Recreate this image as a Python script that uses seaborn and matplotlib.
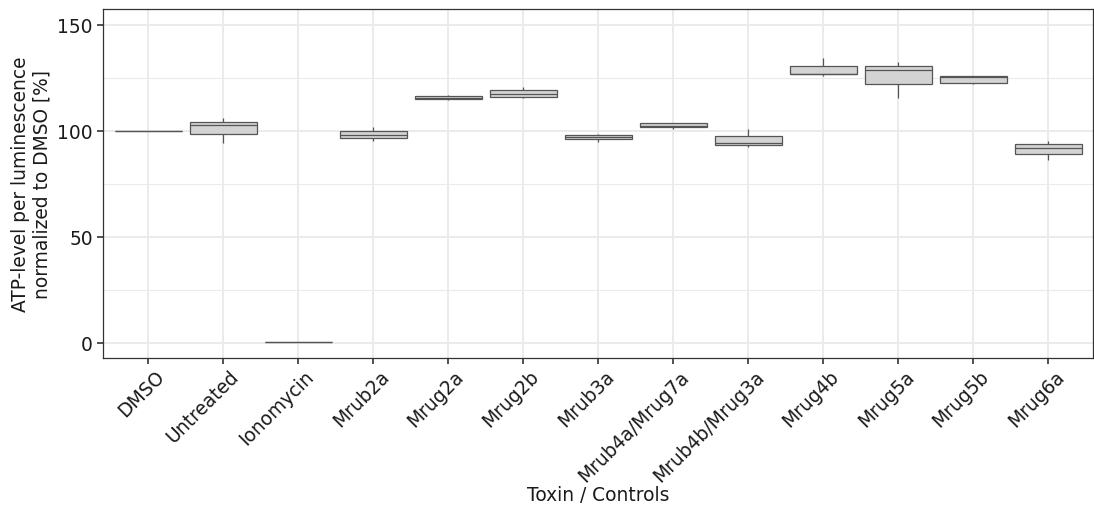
import numpy as np
import pandas as pd
import matplotlib
matplotlib.use('Agg')
import matplotlib.pyplot as plt
import matplotlib.transforms as mtransforms
import seaborn as sns

# ------------------------------------------------------------------
# Data: five values per group (min, q1, median, q3, max)
# ------------------------------------------------------------------

groups = ['DMSO', 'Untreated', 'Ionomycin', 'Mrub2a', 'Mrug2a', 'Mrug2b',
          'Mrub3a', 'Mrub4a/Mrug7a', 'Mrub4b/Mrug3a', 'Mrug4b', 'Mrug5a',
          'Mrug5b', 'Mrug6a']

dmso = [100.0, 100.0, 100.0, 100.0, 100.0]
untreated = [94.4, 98.5, 102.7, 104.2, 105.9]
ionomycin = [0.2, 0.2, 0.2, 0.2, 0.2]
mrub2a = [95.2, 96.3, 97.9, 99.6, 101.5]
mrug2a = [114.5, 114.7, 115.3, 116.3, 116.8]
mrug2b = [115.3, 116.1, 117.4, 119.1, 120.4]
mrub3a = [94.7, 96.0, 96.9, 97.9, 98.5]
mrub4a_mrug7a = [100.7, 101.8, 102.2, 103.4, 103.4]
mrub4b_mrug3a = [92.5, 93.2, 94.3, 97.7, 100.9]
mrug4b = [125.9, 126.5, 126.8, 130.6, 134.5]
mrug5a = [115.3, 121.8, 128.4, 130.6, 132.5]
mrug5b = [122.0, 122.3, 125.5, 125.7, 126.0]
mrug6a = [86.2, 89.2, 91.9, 93.6, 95.2]

values = [dmso, untreated, ionomycin, mrub2a, mrug2a, mrug2b, mrub3a,
          mrub4a_mrug7a, mrub4b_mrug3a, mrug4b, mrug5a, mrug5b, mrug6a]

df = pd.DataFrame({'Toxin': np.repeat(groups, 5),
                   'ATP': np.concatenate(values)})

# ------------------------------------------------------------------
# Plot
# ------------------------------------------------------------------

sns.set_style('white')
plt.rcParams['font.family'] = ['DejaVu Sans']

fig = plt.figure(figsize=(10.94, 5.10), dpi=100)
ax = fig.add_axes([0.0944, 0.296, 0.905, 0.684])

line_col = '#555555'
sns.boxplot(data=df, x='Toxin', y='ATP', order=groups, ax=ax,
            color='#d3d3d3', width=0.9, whis=np.inf, linewidth=0.9,
            linecolor=line_col, saturation=1, showfliers=False,
            showcaps=False)

ax.set_xlim(-0.6, 12.6)
ax.set_ylim(-7.3, 157.3)
ax.set_yticks([0, 50, 100, 150])
ax.set_yticks([25, 75, 125], minor=True)

# theme_bw style grid
ax.set_axisbelow(True)
ax.grid(True, which='major', color='#ebebeb', linewidth=1.4)
ax.grid(True, which='minor', axis='y', color='#ebebeb', linewidth=0.8)
ax.xaxis.grid(True, which='major', color='#ebebeb', linewidth=1.4)
for s in ax.spines.values():
    s.set_color('#333333')
    s.set_linewidth(0.9)

ax.tick_params(axis='both', which='major', length=4, width=1.2,
               color='#333333', labelsize=13.4, labelcolor='#1a1a1a',
               direction='out', left=True, bottom=True)
ax.tick_params(axis='x', pad=2)
ax.tick_params(axis='y', which='minor', length=0)
plt.xticks(rotation=45, ha='right', rotation_mode='anchor')

# nudge rotated labels a little to the right, like ggplot's hjust=1
offset = mtransforms.ScaledTranslation(6 / 100, 0, fig.dpi_scale_trans)
for lab in ax.get_xticklabels():
    lab.set_transform(lab.get_transform() + offset)

ax.set_xlabel('Toxin / Controls', fontsize=13.4, color='#1a1a1a', labelpad=0)
ax.set_ylabel('ATP-level per luminescence\nnormalized to DMSO [%]',
              fontsize=13.4, color='#1a1a1a')

fig.savefig('out.png', dpi=100)
